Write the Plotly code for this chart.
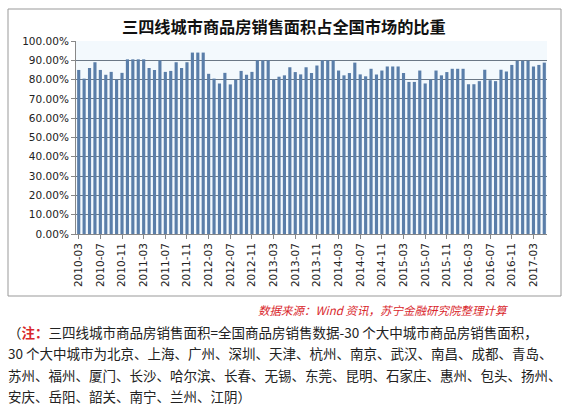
import pandas as pd
import plotly.graph_objects as go

# monthly categories 2010-03 .. 2017-05
months = [p.strftime('%Y-%m') for p in pd.period_range('2010-03', '2017-05', freq='M')]
tick_months = months[::4]

# share of national sales area (%)
share = [85, 80.5, 86, 89, 85, 82.5, 84, 80, 83.5, 90.5,
         90.5, 90.5, 90.5, 86, 85, 90, 84, 84.5, 89, 86,
         89, 94, 94, 94, 83, 80.5, 78, 83.5, 77.5, 80,
         84.5, 82.5, 84, 90, 90, 90, 80, 81.5, 82.2, 86.4,
         83.9, 82.7, 86.4, 83.4, 87.3, 90, 90, 90, 84.7, 82.2,
         83.4, 88.8, 82.7, 81.7, 85.6, 82.7, 84.7, 86.8, 86.8, 86.8,
         83.4, 78.8, 78.8, 84.7, 78, 80, 84.7, 82.2, 83.9, 85.6,
         85.6, 85.6, 77.6, 77.6, 79.2, 85.1, 79.7, 79.2, 85.1, 84.2,
         87.6, 89.8, 89.8, 89.8, 86.8, 87.6, 88.8]

title = '三四线城市商品房销售面积占全国市场的比重'
source = '数据来源：Wind 资讯，苏宁金融研究院整理计算'
note_lines = [
    '（<b><span style="color:#d9262b">注：</span></b>三四线城市商品房销售面积=全国商品房销售数据-30 个大中城市商品房销售面积，',
    '30 个大中城市为北京、上海、广州、深圳、天津、杭州、南京、武汉、南昌、成都、青岛、',
    '苏州、福州、厦门、长沙、哈尔滨、长春、无锡、东莞、昆明、石家庄、惠州、包头、扬州、',
    '安庆、岳阳、韶关、南宁、兰州、江阴）',
]

W, H = 568, 405
L, R, T, B = 76, 21, 41, 171
pw, ph = W - L - R, H - T - B

def px_x(x):
    return (x - L) / pw

def px_y(y):
    return (H - B - y) / ph

cjk = 'Noto Sans CJK SC'

fig = go.Figure(go.Bar(
    x=months, y=[v / 100 for v in share],
    marker_color='#5a7ea9', marker_line_width=0,
))

fig.update_layout(
    width=W, height=H,
    margin=dict(l=L, r=R, t=T, b=B),
    paper_bgcolor='white', plot_bgcolor='#f3f9fd',
    bargap=0.42, showlegend=False,
    font=dict(family='DejaVu Sans', size=10, color='#222'),
)
fig.update_xaxes(
    type='category', tickmode='array', tickvals=tick_months, ticktext=tick_months,
    tickangle=-90, ticks='outside', ticklen=4, tickcolor='#888',
    showline=True, linecolor='#888', showgrid=False,
    tickfont=dict(family='DejaVu Sans', size=10.5),
)
fig.update_yaxes(
    range=[0, 1], dtick=0.1, tickformat='.2%',
    ticks='outside', ticklen=4, tickcolor='#888',
    showline=True, linecolor='#888',
    gridcolor='#6b7886', gridwidth=1,
    tickfont=dict(family='DejaVu Sans', size=10.5),
)

# chart frame
fig.add_shape(type='rect', xref='paper', yref='paper',
              x0=px_x(8), x1=px_x(561), y0=px_y(296), y1=px_y(9),
              line=dict(color='#999', width=1), fillcolor='rgba(0,0,0,0)', layer='below')

fig.add_annotation(text='<b>' + title + '</b>', xref='paper', yref='paper',
                   x=px_x(284), y=px_y(26), xanchor='center', yanchor='middle',
                   showarrow=False, font=dict(family=cjk, size=16.2, color='#111'))

fig.add_annotation(text='<i>' + source + '</i>', xref='paper', yref='paper',
                   x=px_x(511), y=px_y(310), xanchor='right', yanchor='middle',
                   showarrow=False, font=dict(family=cjk, size=11.5, color='#d9262b'))

for i, line in enumerate(note_lines):
    fig.add_annotation(text=line, xref='paper', yref='paper',
                       x=px_x(6), y=px_y(332 + i * 21.3), xanchor='left', yanchor='middle',
                       showarrow=False, font=dict(family=cjk, size=13.5, color='#222'))

# drop the default page margin so the figure sits at the window's corner
fig.write_html("out.html", config={'displayModeBar': False},
               post_script="document.body.style.margin='0';document.body.style.overflow='hidden';")
